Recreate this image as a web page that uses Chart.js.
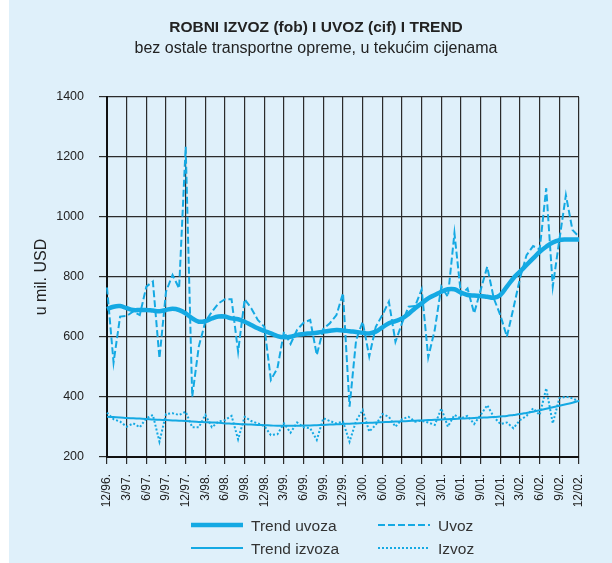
<!DOCTYPE html>
<html>
<head>
<meta charset="utf-8">
<script src="https://cdn.jsdelivr.net/npm/chart.js@4"></script>
<style>
  body { margin: 0; background: #ffffff; }
  #okvir { width: 612px; height: 563px; }
</style>
</head>
<body>
<div id="okvir"><canvas id="grafikon" width="612" height="563"></canvas></div>
<script>
// Oznake na osi x (svaki treći mjesec)
const oznakeX = ['12/96.', '3/97.', '6/97.', '9/97.', '12/97.', '3/98.', '6/98.', '9/98.', '12/98.',
  '3/99.', '6/99.', '9/99.', '12/99.', '3/00.', '6/00.', '9/00.', '12/00.', '3/01.', '6/01.',
  '9/01.', '12/01.', '3/02.', '6/02.', '9/02.', '12/02.'];

// Mjeseci od 12/96. do 12/02.
const mjeseci = [];
for (let i = 0; i <= 72; i++) {
    const m = (11 + i) % 12 + 1;
    const g = 96 + Math.floor((11 + i) / 12);
    mjeseci.push(m + '/' + String(g % 100).padStart(2, '0') + '.');
}

// Uvoz (cif), mil. USD
const uvoz = [765, 515, 668, 670, 685, 673, 768, 785, 529, 751, 807, 762, 1234,
  401, 568, 651, 684, 712, 726, 726, 551, 726, 696, 657, 634,
  457, 496, 618, 577, 624, 648, 657, 540, 627, 646, 673, 746,
  368, 590, 651, 535, 634, 673, 718, 584, 646, 701, 703, 759,
  532, 624, 768, 734, 946, 740, 762, 679, 757, 834, 729, 673,
  601, 696, 796, 873, 903, 892, 1096, 768, 923, 1073, 957, 934];

// Trend uvoza
const trendUvoza = [693, 701, 703, 696, 690, 690, 690, 688, 686, 690, 694, 690, 679,
  662, 651, 653, 662, 668, 668, 662, 659, 651, 640, 629, 620,
  612, 603, 599, 601, 607, 610, 612, 614, 618, 621, 623, 622,
  619, 617, 614, 612, 618, 632, 646, 653, 662, 677, 696, 712,
  729, 740, 751, 759, 759, 748, 740, 738, 737, 734, 731, 740,
  768, 796, 818, 840, 862, 884, 901, 915, 923, 925, 925, 925];

// Izvoz (fob), mil. USD
const izvoz = [348, 326, 318, 301, 312, 299, 329, 340, 251, 343, 346, 340, 351,
  299, 299, 340, 299, 318, 323, 337, 259, 334, 320, 312, 303,
  273, 276, 312, 281, 315, 299, 296, 257, 329, 320, 312, 318,
  251, 320, 357, 285, 307, 343, 334, 301, 326, 334, 318, 321,
  315, 307, 362, 301, 340, 329, 337, 310, 340, 373, 334, 310,
  315, 296, 323, 337, 362, 340, 429, 312, 396, 401, 396, 385];

// Trend izvoza
const trendIzvoza = [334, 333, 332, 330, 329, 328, 327, 325, 324, 323, 322, 321, 320,
  318, 317, 316, 315, 314, 312, 311, 310, 309, 308, 307, 306,
  305, 304, 304, 304, 304, 305, 305, 306, 307, 308, 309, 310,
  311, 312, 313, 314, 315, 316, 317, 318, 319, 320, 321, 322,
  323, 324, 325, 326, 327, 328, 329, 330, 331, 332, 333, 335,
  337, 340, 343, 347, 351, 356, 361, 366, 371, 376, 381, 387];

const PLAVA = '#14a9e3';
const MREZA = '#2b2b2b';
const POZADINA = '#dff0fa';
const FONT = "'Liberation Sans', Arial, sans-serif";

Chart.defaults.font.family = FONT;
Chart.defaults.color = '#222';

// Svijetloplava podloga (uski bijeli rub lijevo)
const podloga = {
    id: 'podloga',
    beforeDraw(chart) {
        const ctx = chart.ctx;
        ctx.save();
        ctx.fillStyle = POZADINA;
        ctx.fillRect(9, 0, chart.width - 9, chart.height);
        ctx.restore();
    }
};

// Naslov i podnaslov iznad grafikona
const naslovi = {
    id: 'naslovi',
    afterDraw(chart) {
        const ctx = chart.ctx;
        ctx.save();
        ctx.fillStyle = '#222';
        ctx.textAlign = 'center';
        ctx.textBaseline = 'alphabetic';
        ctx.font = 'bold 15.5px ' + FONT;
        ctx.fillText('ROBNI IZVOZ (fob) I UVOZ (cif) I TREND', 316, 31.5);
        ctx.font = '16px ' + FONT;
        ctx.fillText('bez ostale transportne opreme, u tekućim cijenama', 316, 52.5);
        ctx.restore();
    }
};

// Legenda u dva stupca ispod grafikona
const legenda = {
    id: 'legenda',
    afterDraw(chart) {
        const ctx = chart.ctx;
        const mjesta = [[191, 525], [378, 525], [191, 548], [378, 548]];
        ctx.save();
        chart.data.datasets.forEach((ds, k) => {
            const [x, y] = mjesta[k];
            ctx.strokeStyle = ds.borderColor;
            ctx.lineWidth = ds.borderWidth;
            ctx.setLineDash(ds.borderDash || []);
            ctx.beginPath();
            ctx.moveTo(x, y);
            ctx.lineTo(x + 52, y);
            ctx.stroke();
            ctx.setLineDash([]);
            ctx.fillStyle = '#333';
            ctx.font = '15.5px ' + FONT;
            ctx.textBaseline = 'middle';
            ctx.fillText(ds.label, x + 60, y + 2);
        });
        ctx.restore();
    }
};

const linijaMreze = (c) => (c.index % 3 === 0 ? MREZA : 'rgba(0,0,0,0)');

new Chart(document.getElementById('grafikon'), {
    type: 'line',
    data: {
        labels: mjeseci,
        datasets: [
            { label: 'Trend uvoza', data: trendUvoza, borderColor: PLAVA, borderWidth: 4.5, tension: 0.4 },
            { label: 'Uvoz', data: uvoz, borderColor: PLAVA, borderWidth: 2, borderDash: [7, 3], tension: 0 },
            { label: 'Trend izvoza', data: trendIzvoza, borderColor: PLAVA, borderWidth: 2, tension: 0.4 },
            { label: 'Izvoz', data: izvoz, borderColor: PLAVA, borderWidth: 2, borderDash: [2, 2], tension: 0 }
        ]
    },
    options: {
        responsive: false,
        animation: false,
        layout: { padding: { top: 97, right: 33, bottom: 56, left: 0 } },
        elements: { point: { radius: 0 } },
        plugins: {
            legend: { display: false },
            tooltip: { enabled: false }
        },
        scales: {
            x: {
                offset: false,
                grid: { color: linijaMreze, tickColor: linijaMreze, lineWidth: 1.2, tickLength: 7 },
                border: { color: '#111', width: 2 },
                ticks: {
                    autoSkip: false,
                    minRotation: 90,
                    maxRotation: 90,
                    padding: 10,
                    font: { size: 12 },
                    callback: (v, i) => (i % 3 === 0 ? oznakeX[i / 3] : '')
                },
                afterFit: (s) => { s.height = 50; }
            },
            y: {
                min: 200,
                max: 1400,
                grid: { color: MREZA, lineWidth: 1.2, tickLength: 8 },
                border: { color: '#111', width: 2 },
                ticks: { stepSize: 200, padding: 15, font: { size: 12.5 }, callback: (v) => String(v) },
                title: { display: true, text: 'u mil. USD', font: { size: 16 }, padding: { top: 32, bottom: 0 } },
                afterFit: (s) => { s.width = 107; }
            }
        }
    },
    plugins: [podloga, naslovi, legenda]
});
</script>
</body>
</html>
